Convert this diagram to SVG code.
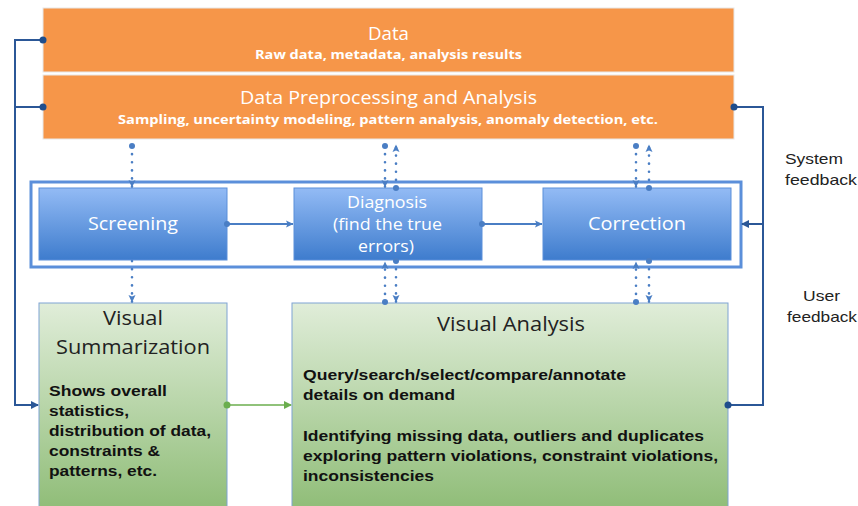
<svg xmlns="http://www.w3.org/2000/svg" width="858" height="506" viewBox="0 0 858 506">
<style>
.t{font-family:"Open Sans",Lato,sans-serif;fill:#fff}
.h{font-size:18px}
.s{font-size:13px;font-weight:bold}
.b{font-family:"Open Sans",Lato,sans-serif;fill:#fff;font-size:18px}
.d{font-size:16.5px}
.g{font-family:"Open Sans",Lato,sans-serif;fill:#222;font-size:20px}
.body{font-family:"Liberation Sans",Arial,sans-serif;font-weight:bold;font-size:15px;fill:#111}
.lbl{font-family:"Liberation Sans",Arial,sans-serif;font-size:15px;fill:#222}
.fb{fill:none;stroke:#2B5797;stroke-width:2}
.dot{fill:none;stroke:#4A7EC4;stroke-width:2.6;stroke-dasharray:0.1 8;stroke-linecap:round}
.blk{fill:none;stroke:#4A7EC4;stroke-width:2}
</style>
<defs>
<linearGradient id="bg" x1="0" y1="0" x2="0" y2="1"><stop offset="0" stop-color="#93BBF5"/><stop offset="1" stop-color="#3E7CCD"/></linearGradient>
<linearGradient id="gg" x1="0" y1="0" x2="0" y2="1"><stop offset="0" stop-color="#E0EDD9"/><stop offset="1" stop-color="#8EBC76"/></linearGradient>
<marker id="ab" markerWidth="8" markerHeight="8" refX="7" refY="4" orient="auto" markerUnits="userSpaceOnUse"><path d="M0,0 L8,4 L0,8 z" fill="#2B5797"/></marker>
<marker id="al" markerWidth="8" markerHeight="8" refX="7" refY="4" orient="auto" markerUnits="userSpaceOnUse"><path d="M0,0.5 L7.5,4 L0,7.5 L1.5,4 z" fill="#4A7EC4"/></marker>
<marker id="ag" markerWidth="8" markerHeight="8" refX="7" refY="4" orient="auto" markerUnits="userSpaceOnUse"><path d="M0,0 L8,4 L0,8 z" fill="#6BAE4E"/></marker>
<marker id="db" markerWidth="8" markerHeight="8" refX="4" refY="4" markerUnits="userSpaceOnUse"><circle cx="4" cy="4" r="3.5" fill="#1F4E8C"/></marker>
<marker id="dl" markerWidth="8" markerHeight="8" refX="4" refY="4" markerUnits="userSpaceOnUse"><circle cx="4" cy="4" r="3" fill="#4A7EC4"/></marker>
<marker id="dg" markerWidth="8" markerHeight="8" refX="4" refY="4" markerUnits="userSpaceOnUse"><circle cx="4" cy="4" r="3.5" fill="#6BAE4E"/></marker>
</defs>
<rect width="858" height="506" fill="#fff"/>

<g id="data">
<rect x="43" y="8" width="691" height="64" fill="#F69649" stroke="#E8E8E8" stroke-width="1"/>
<text class="t h" x="368" y="40" textLength="41" lengthAdjust="spacingAndGlyphs">Data</text>
<text class="t s" x="255" y="59" textLength="267" lengthAdjust="spacingAndGlyphs">Raw data, metadata, analysis results</text>
</g>
<g id="preprocessing">
<rect x="43" y="75" width="691" height="64" fill="#F69649" stroke="#E8E8E8" stroke-width="1"/>
<text class="t h" x="240" y="104" textLength="297" lengthAdjust="spacingAndGlyphs">Data Preprocessing and Analysis</text>
<text class="t s" x="118" y="124" textLength="540" lengthAdjust="spacingAndGlyphs">Sampling, uncertainty modeling, pattern analysis, anomaly detection, etc.</text>
</g>
<g id="frame">
<rect x="31" y="182" width="710" height="85" fill="#fff" stroke="#5B8FDA" stroke-width="3"/>
</g>
<g id="screening">
<rect x="39" y="188" width="188" height="72" fill="url(#bg)" stroke="#5B8FDA" stroke-width="1"/>
<text class="b" x="88" y="230" textLength="90" lengthAdjust="spacingAndGlyphs">Screening</text>
</g>
<g id="diagnosis">
<rect x="294" y="188" width="188" height="72" fill="url(#bg)" stroke="#5B8FDA" stroke-width="1"/>
<text class="b d" x="347" y="208" textLength="80" lengthAdjust="spacingAndGlyphs">Diagnosis</text>
<text class="b d" x="333" y="230" textLength="109" lengthAdjust="spacingAndGlyphs">(find the true</text>
<text class="b d" x="358" y="252" textLength="56" lengthAdjust="spacingAndGlyphs">errors)</text>
</g>
<g id="correction">
<rect x="543" y="188" width="188" height="72" fill="url(#bg)" stroke="#5B8FDA" stroke-width="1"/>
<text class="b" x="588" y="230" textLength="98" lengthAdjust="spacingAndGlyphs">Correction</text>
</g>
<g id="visual-summarization">
<rect x="39" y="303" width="188" height="210" fill="url(#gg)" stroke="#7FA3D3" stroke-width="1"/>
<text class="g" x="103" y="325" textLength="60" lengthAdjust="spacingAndGlyphs">Visual</text>
<text class="g" x="56" y="354" textLength="154" lengthAdjust="spacingAndGlyphs">Summarization</text>
<text class="body" x="49" y="396" textLength="118" lengthAdjust="spacingAndGlyphs">Shows overall</text>
<text class="body" x="49" y="416" textLength="80" lengthAdjust="spacingAndGlyphs">statistics,</text>
<text class="body" x="49" y="436" textLength="162" lengthAdjust="spacingAndGlyphs">distribution of data,</text>
<text class="body" x="49" y="456" textLength="111" lengthAdjust="spacingAndGlyphs">constraints &amp;</text>
<text class="body" x="49" y="476" textLength="108" lengthAdjust="spacingAndGlyphs">patterns, etc.</text>
</g>
<g id="visual-analysis">
<rect x="292" y="303" width="436" height="210" fill="url(#gg)" stroke="#7FA3D3" stroke-width="1"/>
<text class="g" x="437" y="331" textLength="148" lengthAdjust="spacingAndGlyphs">Visual Analysis</text>
<text class="body" x="303" y="380" textLength="323" lengthAdjust="spacingAndGlyphs">Query/search/select/compare/annotate</text>
<text class="body" x="303" y="400" textLength="152" lengthAdjust="spacingAndGlyphs">details on demand</text>
<text class="body" x="303" y="441" textLength="401" lengthAdjust="spacingAndGlyphs">Identifying missing data, outliers and duplicates</text>
<text class="body" x="303" y="461" textLength="415" lengthAdjust="spacingAndGlyphs">exploring pattern violations, constraint violations,</text>
<text class="body" x="303" y="481" textLength="131" lengthAdjust="spacingAndGlyphs">inconsistencies</text>
</g>
<g id="labels">
<text class="lbl" x="785" y="164" textLength="58" lengthAdjust="spacingAndGlyphs">System</text>
<text class="lbl" x="785" y="185" textLength="72" lengthAdjust="spacingAndGlyphs">feedback</text>
<text class="lbl" x="803" y="301" textLength="37" lengthAdjust="spacingAndGlyphs">User</text>
<text class="lbl" x="787" y="322" textLength="70" lengthAdjust="spacingAndGlyphs">feedback</text>
</g>
<g id="connectors">
<path class="fb" d="M43,40 H15 V405 H38" marker-start="url(#db)" marker-end="url(#ab)"/>
<path class="fb" d="M43,107 H15"  marker-start="url(#db)"/>
<path class="fb" d="M734,107 H763 V405 H728" marker-start="url(#db)" marker-end="url(#db)"/>
<path class="fb" d="M763,224 H742" marker-end="url(#ab)"/>
<path class="blk" d="M227,224 H293" marker-start="url(#dl)" marker-end="url(#al)"/>
<path class="blk" d="M482,224 H542" marker-start="url(#dl)" marker-end="url(#al)"/>
<path d="M227,405 H291" stroke="#6BAE4E" stroke-width="1.5" fill="none" marker-start="url(#dg)" marker-end="url(#ag)"/>
<path class="dot" d="M132,146 V187" marker-start="url(#dl)" marker-end="url(#al)"/>
<path class="dot" d="M132,261 V302" marker-end="url(#al)"/>
<path class="dot" d="M385,146 V187" marker-start="url(#dl)" marker-end="url(#al)"/>
<path class="dot" d="M396,188 V145" marker-start="url(#dl)" marker-end="url(#al)"/>
<path class="dot" d="M385,302 V262" marker-start="url(#dl)" marker-end="url(#al)"/>
<path class="dot" d="M396,261 V302" marker-start="url(#dl)" marker-end="url(#al)"/>
<path class="dot" d="M636,146 V187" marker-start="url(#dl)" marker-end="url(#al)"/>
<path class="dot" d="M649,188 V145" marker-start="url(#dl)" marker-end="url(#al)"/>
<path class="dot" d="M636,302 V262" marker-start="url(#dl)" marker-end="url(#al)"/>
<path class="dot" d="M649,261 V302" marker-start="url(#dl)" marker-end="url(#al)"/>
</g>
</svg>
